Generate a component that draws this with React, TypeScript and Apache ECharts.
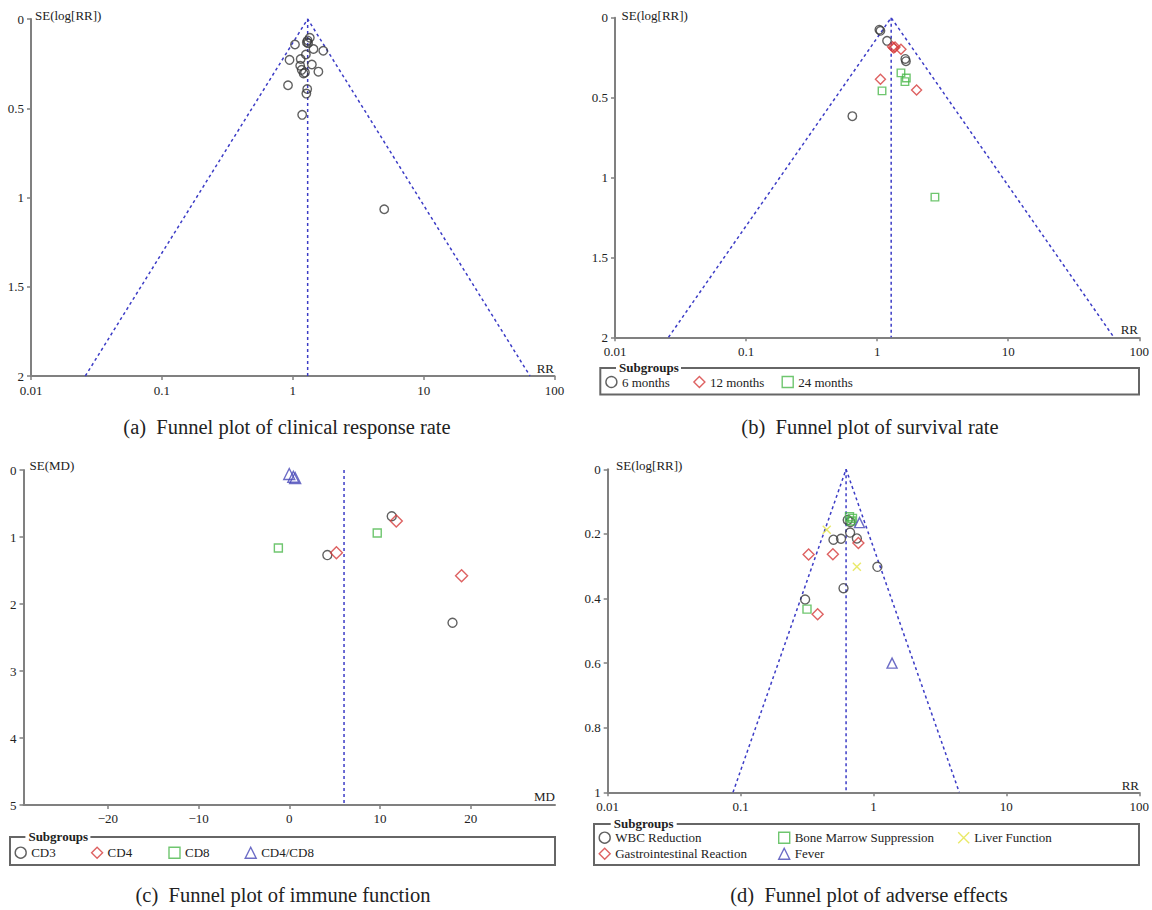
import React, { useEffect, useRef } from "react";
import * as echarts from "echarts";

// ---------- data ----------
// (a) clinical response rate: [RR, SE(log RR)]
const clinicalStudies = [
  [1.35, 0.105], [1.3, 0.12], [1.28, 0.13], [1.31, 0.135], [1.04, 0.143],
  [1.44, 0.168], [1.71, 0.178], [1.26, 0.199], [0.945, 0.229], [1.15, 0.224],
  [1.14, 0.262], [1.4, 0.255], [1.17, 0.285], [1.21, 0.305], [1.57, 0.295],
  [1.24, 0.3], [0.92, 0.371], [1.29, 0.392], [1.27, 0.418], [1.18, 0.537],
  [5.0, 1.066],
];
const clinicalFunnel = [[0.026, 2], [1.3, 0], [65, 2]];
const clinicalPooled = [[1.3, 0], [1.3, 2]];

// (b) survival rate
const survival6 = [[1.04, 0.075], [1.06, 0.082], [1.19, 0.145], [1.64, 0.258], [1.66, 0.272], [0.647, 0.616]];
const survival12 = [[1.31, 0.182], [1.34, 0.19], [1.37, 0.184], [1.52, 0.198], [1.06, 0.385], [2.0, 0.453]];
const survival24 = [[1.52, 0.345], [1.67, 0.377], [1.63, 0.4], [1.09, 0.458], [2.76, 1.123]];
const survivalFunnel = [[0.0256, 2], [1.28, 0], [64, 2]];
const survivalPooled = [[1.28, 0], [1.28, 2]];

// (c) immune function: [MD, SE(MD)]
const immuneCD3 = [[11.3, 0.69], [4.2, 1.27], [18.0, 2.28]];
const immuneCD4 = [[11.8, 0.76], [5.2, 1.235], [19.0, 1.58]];
const immuneCD8 = [[-1.2, 1.165], [9.7, 0.94]];
const immuneRatio = [[0.0, 0.06], [0.45, 0.1], [0.65, 0.12]];
const immunePooled = [[6.04, 0], [6.04, 5]];

// (d) adverse effects
const adverseWBC = [[0.64, 0.157], [0.67, 0.163], [0.667, 0.196], [0.5, 0.218], [0.57, 0.215], [0.75, 0.214], [1.07, 0.302], [0.595, 0.368], [0.306, 0.403]];
const adverseBM = [[0.66, 0.147], [0.695, 0.152], [0.68, 0.16], [0.316, 0.433]];
const adverseLiver = [[0.445, 0.187], [0.75, 0.302]];
const adverseGI = [[0.325, 0.264], [0.495, 0.263], [0.77, 0.228], [0.38, 0.449]];
const adverseFever = [[0.785, 0.165], [1.38, 0.6]];
const adverseFunnel = [[0.0877, 1], [0.622, 0], [4.42, 1]];
const adversePooled = [[0.622, 0], [0.622, 1]];

const mdTicks = [-20, -10, 0, 10, 20];

// ---------- styles ----------
const FONT = '"Liberation Serif", "DejaVu Serif", "Times New Roman", serif';
const AXIS = "#808080";
const TXT = "#222";
const DARK = "#3a3a3a";
const RED = "#d63b3b";
const GREEN = "#4bb84b";
const BLUE = "#4848b8";
const YELLOW = "#e3e344";
const LINE = "#3c3cc6";
const XPATH = "path://M0,0L10,10M10,0L0,10";

const fmtNum = (v: number) => String(parseFloat(Number(v).toPrecision(6)));

function logX(gridIndex: number) {
  return {
    type: "log", logBase: 10, min: 0.01, max: 100, gridIndex,
    axisLine: { show: true, onZero: false, lineStyle: { color: AXIS, width: 2 } },
    axisTick: { show: true, length: 4, lineStyle: { color: AXIS, width: 1.5 } },
    axisLabel: { color: TXT, fontSize: 13, fontFamily: FONT, margin: 8, formatter: (v: number) => fmtNum(v) },
    splitLine: { show: false }, minorTick: { show: false },
  };
}
function seY(gridIndex: number, max: number, interval: number) {
  return {
    type: "value", inverse: true, min: 0, max, interval, gridIndex,
    axisLine: { show: true, onZero: false, lineStyle: { color: AXIS, width: 2 } },
    axisTick: { show: true, length: 4, lineStyle: { color: AXIS, width: 1.5 } },
    axisLabel: { color: TXT, fontSize: 13, fontFamily: FONT, margin: 7, formatter: (v: number) => fmtNum(v) },
    splitLine: { show: false },
  };
}
function scatter(name: string, data: number[][], i: number, symbol: string, size: number, color: string) {
  return {
    type: "scatter", name, data, xAxisIndex: i, yAxisIndex: i, symbol, symbolSize: size,
    itemStyle: { color: "rgba(0,0,0,0)", borderColor: color, borderWidth: 1.4 },
    emphasis: { disabled: true }, z: 3,
  };
}
function dashed(name: string, data: number[][], i: number) {
  return {
    type: "line", name, data, xAxisIndex: i, yAxisIndex: i, symbol: "none", showSymbol: false,
    lineStyle: { color: LINE, width: 1.5, type: [3, 3] }, silent: true, z: 2, emphasis: { disabled: true },
  };
}
function legendItem(name: string, left: number, cy: number) {
  return {
    data: [name], left, top: cy - 5.5, orient: "horizontal", padding: 0,
    itemWidth: 11, itemHeight: 11, selectedMode: false,
    textStyle: { fontFamily: FONT, fontSize: 13, color: TXT, lineHeight: 11 },
    itemStyle: { borderWidth: 1.4 },
  };
}
function txt(text: string, x: number, y: number, size: number, align = "left", bold = false) {
  return {
    type: "text", x, y, z: 10, silent: true,
    style: {
      text, fill: TXT, font: `${bold ? "bold " : ""}${size}px ${FONT}`,
      textAlign: align, textVerticalAlign: "middle",
    },
  };
}
function legendBox(x: number, y: number, w: number, h: number, tx: number, tw: number) {
  return [
    { type: "rect", z: 1, silent: true, shape: { x, y, width: w, height: h }, style: { fill: "none", stroke: "#666", lineWidth: 2 } },
    { type: "rect", z: 2, silent: true, shape: { x: tx - 3, y: y - 6, width: tw + 6, height: 12 }, style: { fill: "#fff" } },
    txt("Subgroups", tx, y - 0.5, 13, "left", true),
  ];
}

const option = {
  animation: false,
  backgroundColor: "#fff",
  grid: [
    { left: 31, top: 19, width: 523.5, height: 357 },
    { left: 615, top: 17.7, width: 525, height: 319.6 },
    { left: 23.5, top: 470, width: 531.5, height: 335 },
    { left: 607.7, top: 469.3, width: 532, height: 323 },
  ],
  xAxis: [
    logX(0),
    logX(1),
    {
      type: "value", min: -29.3, max: 29.3, gridIndex: 2,
      axisLine: { show: true, onZero: false, lineStyle: { color: AXIS, width: 2 } },
      axisTick: { show: true, length: 4, customValues: mdTicks, lineStyle: { color: AXIS, width: 1.5 } },
      axisLabel: {
        color: TXT, fontSize: 13, fontFamily: FONT, margin: 7, customValues: mdTicks,
        formatter: (v: number) => (v < 0 ? "\u2212" + Math.abs(v) : String(v)),
      },
      splitLine: { show: false },
    },
    logX(3),
  ],
  yAxis: [seY(0, 2, 0.5), seY(1, 2, 0.5), seY(2, 5, 1), seY(3, 1, 0.2)],
  legend: [
    legendItem("6 months", 605.2, 381),
    legendItem("12 months", 693.2, 381),
    legendItem("24 months", 781.5, 381),
    legendItem("CD3", 14.5, 851.7),
    legendItem("CD4", 90.9, 851.7),
    legendItem("CD8", 168.3, 851.7),
    legendItem("CD4/CD8", 244.5, 851.7),
    legendItem("WBC Reduction", 598.5, 836.7),
    legendItem("Bone Marrow Suppression", 778, 836.7),
    legendItem("Liver Function", 957.5, 836.7),
    legendItem("Gastrointestinal Reaction", 598.5, 852.7),
    legendItem("Fever", 778, 852.7),
  ],
  series: [
    dashed("funnel a", clinicalFunnel, 0),
    dashed("pooled a", clinicalPooled, 0),
    scatter("Studies", clinicalStudies, 0, "circle", 8.5, DARK),

    dashed("funnel b", survivalFunnel, 1),
    dashed("pooled b", survivalPooled, 1),
    scatter("6 months", survival6, 1, "circle", 8.5, DARK),
    scatter("12 months", survival12, 1, "diamond", 10, RED),
    scatter("24 months", survival24, 1, "rect", 7.5, GREEN),

    dashed("pooled c", immunePooled, 2),
    scatter("CD3", immuneCD3, 2, "circle", 9, DARK),
    scatter("CD4", immuneCD4, 2, "diamond", 12, RED),
    scatter("CD8", immuneCD8, 2, "rect", 8, GREEN),
    scatter("CD4/CD8", immuneRatio, 2, "triangle", 11, BLUE),

    dashed("funnel d", adverseFunnel, 3),
    dashed("pooled d", adversePooled, 3),
    scatter("WBC Reduction", adverseWBC, 3, "circle", 9, DARK),
    scatter("Bone Marrow Suppression", adverseBM, 3, "rect", 8, GREEN),
    scatter("Liver Function", adverseLiver, 3, XPATH, 8, YELLOW),
    scatter("Gastrointestinal Reaction", adverseGI, 3, "diamond", 11, RED),
    scatter("Fever", adverseFever, 3, "triangle", 10, BLUE),
  ],
  graphic: [
    txt("SE(log[RR])", 35, 15.5, 13),
    txt("RR", 554, 368, 13, "right"),
    txt("SE(log[RR])", 621.5, 15, 13),
    txt("RR", 1138, 329.5, 13, "right"),
    txt("SE(MD)", 29.5, 465, 13),
    txt("MD", 555, 796.5, 13, "right"),
    txt("SE(log[RR])", 616, 465.5, 13),
    txt("RR", 1139, 785, 13, "right"),
    ...legendBox(600.3, 368, 538.7, 26.5, 619, 59),
    ...legendBox(10, 837, 545, 28, 28.4, 59),
    ...legendBox(594, 824, 545, 41, 613.7, 60),
    txt("(a)  Funnel plot of clinical response rate", 287, 427, 20.5, "center"),
    txt("(b)  Funnel plot of survival rate", 870, 427, 20.5, "center"),
    txt("(c)  Funnel plot of immune function", 283, 895, 20.5, "center"),
    txt("(d)  Funnel plot of adverse effects", 869, 895, 20.5, "center"),
  ],
};

export default function App() {
  const ref = useRef<HTMLDivElement>(null);
  useEffect(() => {
    if (!ref.current) return;
    const chart = echarts.init(ref.current, null, { renderer: "svg", width: 1152, height: 910 });
    chart.setOption(option as any);
    return () => chart.dispose();
  }, []);
  return (
    <div
      ref={ref}
      style={{ position: "absolute", left: 0, top: 0, width: 1152, height: 910, background: "#fff" }}
    />
  );
}
